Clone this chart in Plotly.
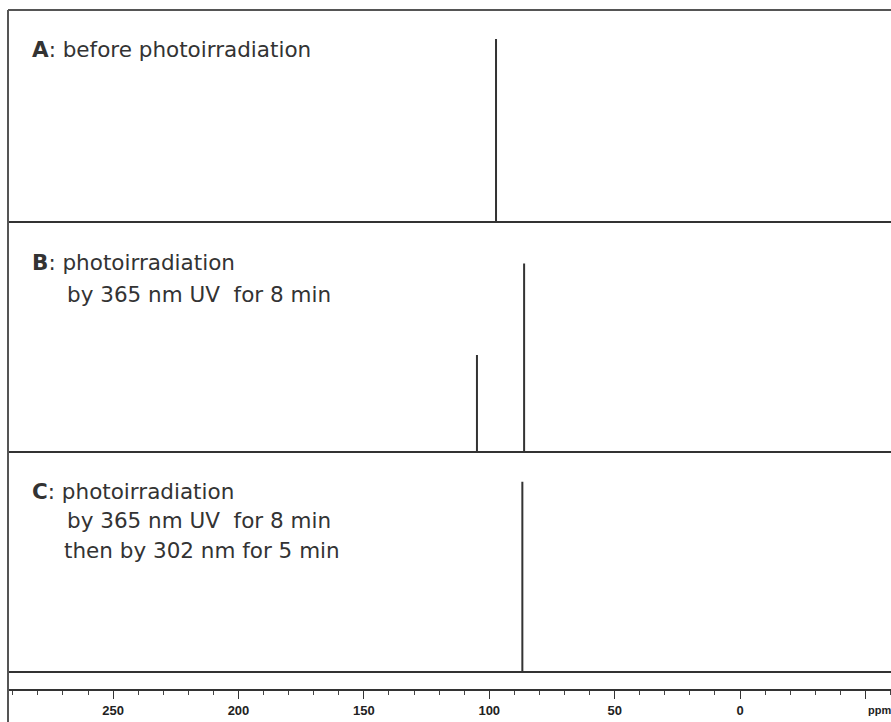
import plotly.graph_objects as go

# ---- data ----
shift_A = [97.3]
height_A = [1.00]
shift_B = [104.9, 86.1]
height_B = [0.53, 1.03]
shift_C = [86.8]
height_C = [1.04]

tick_vals = [250, 200, 150, 100, 50, 0, -50]
tick_text = ["250", "200", "150", "100", "50", "0", ""]
x_left, x_right = 291.9, -60.2

label_A = ["<b>A</b>: before photoirradiation"]
label_B = ["<b>B</b>: photoirradiation", "by 365 nm UV  for 8 min"]
label_C = ["<b>C</b>: photoirradiation", "by 365 nm UV  for 8 min", "then by 302 nm for 5 min"]

# ---- layout geometry (pixels) ----
W, H = 891, 722
mt, mb, ml, mr = 10, 33, 8, 0
plot_h = H - mt - mb
plot_w = W - ml - mr
px_per_unit = 183.0

def fy(py):
    return 1 - (py - mt) / plot_h

def fx(px):
    return (px - ml) / plot_w

def stick(shifts, heights):
    pairs = sorted(zip(shifts, heights), key=lambda t: -t[0])
    xs, ys = [x_left], [0]
    for s, h in pairs:
        xs += [s, s, s]
        ys += [0, h, 0]
    xs.append(x_right)
    ys.append(0)
    return xs, ys

panels = [
    (shift_A, height_A, 10, 237, 222),
    (shift_B, height_B, 237, 462, 452),
    (shift_C, height_C, 462, 689, 672),
]

fig = go.Figure()
line_col = "#333333"
for i, (sh, ht, top, bot, base) in enumerate(panels):
    xs, ys = stick(sh, ht)
    yname = "y" if i == 0 else f"y{i+1}"
    fig.add_trace(go.Scatter(x=xs, y=ys, mode="lines", xaxis="x", yaxis=yname,
                             line=dict(color=line_col, width=2), showlegend=False,
                             hoverinfo="skip"))
    ax = dict(domain=[fy(bot), fy(top)], anchor="x",
              range=[-(bot - base) / px_per_unit, (base - top) / px_per_unit],
              visible=False, fixedrange=True)
    key = "yaxis" if i == 0 else f"yaxis{i+1}"
    fig.layout[key] = ax

fig.update_layout(
    width=W, height=H,
    margin=dict(l=ml, r=mr, t=mt, b=mb, pad=0),
    paper_bgcolor="white", plot_bgcolor="rgba(0,0,0,0)",
    xaxis=dict(range=[x_left, x_right], anchor="y3", showgrid=False, zeroline=False,
               showline=True, linecolor="#333", linewidth=1.5,
               ticks="outside", ticklen=8, tickwidth=1.2, tickcolor="#333",
               tickvals=tick_vals, ticktext=tick_text,
               tickfont=dict(family="Liberation Sans", size=13, color="#222", weight="bold"),
               minor=dict(dtick=10, ticks="outside", ticklen=4, tickwidth=1, tickcolor="#444",
                          showgrid=False),
               ticklabelstandoff=1),
)

font = dict(family="DejaVu Sans", size=21.5, color="#333")
ann = []
def add_lines(lines, first_x, indent_xs, ys):
    for j, (t, y) in enumerate(zip(lines, ys)):
        x = first_x if j == 0 else indent_xs[j - 1]
        ann.append(dict(text=t, xref="paper", yref="paper", x=fx(x), y=fy(y),
                        xanchor="left", yanchor="middle", showarrow=False, font=font))

add_lines(label_A, 30, [], [49])
add_lines(label_B, 30, [65], [262, 294])
add_lines(label_C, 30, [65, 62], [491, 520, 550])
ann.append(dict(text="<b>ppm</b>", xref="paper", yref="paper", x=fx(866), y=fy(710),
                xanchor="left", yanchor="middle", showarrow=False,
                font=dict(family="Liberation Sans", size=11, color="#222")))
fig.update_layout(annotations=ann)

# frame: top line and left line
fig.add_shape(type="line", xref="paper", yref="paper", x0=0, x1=1, y0=fy(10), y1=fy(10),
              line=dict(color="#555", width=2))
fig.add_shape(type="line", xref="paper", yref="paper", x0=0, x1=0, y0=fy(10), y1=fy(722),
              line=dict(color="#555", width=2))

fig.write_html("out.html")
